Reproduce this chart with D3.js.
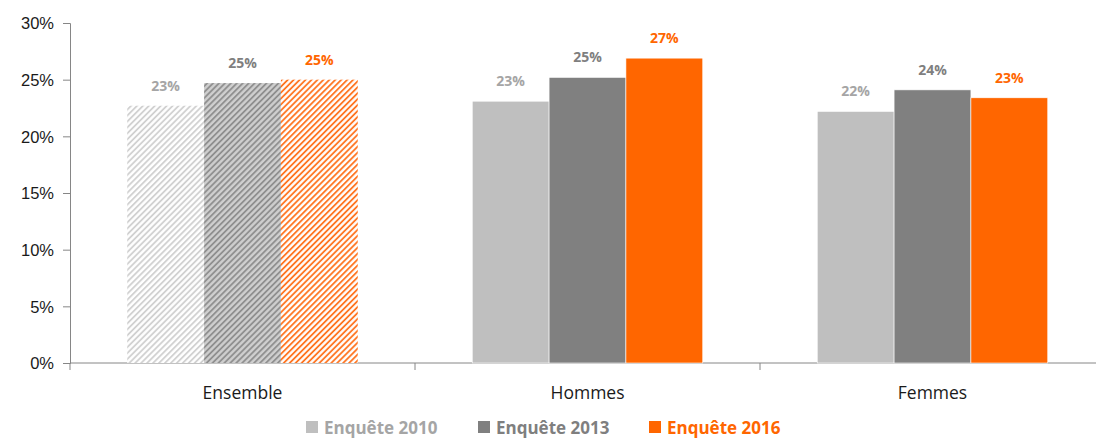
<!DOCTYPE html>
<html>
<head>
<meta charset="utf-8">
<script src="https://cdn.jsdelivr.net/npm/d3@7"></script>
<style>
body { margin: 0; background: #fff; }
svg { font-family: "Open Sans", "Liberation Sans", sans-serif; }
.axis path, .axis line { stroke: #868686; }
.axis text { fill: #1a1a1a; font-size: 16.5px; }
</style>
</head>
<body>
<svg width="1096" height="440"></svg>
<script>
// data
var categories = ["Ensemble", "Hommes", "Femmes"];
var series = ["Enquête 2010", "Enquête 2013", "Enquête 2016"];
var values2010 = [22.7, 23.1, 22.2];
var values2013 = [24.7, 25.2, 24.1];
var values2016 = [25.0, 26.9, 23.4];
var yTicks = [0, 5, 10, 15, 20, 25, 30];

var colors = ["#bfbfbf", "#808080", "#ff6600"];
var labelColors = ["#a5a5a5", "#7f7f7f", "#ff6600"];

var svg = d3.select("svg"),
    margin = {top: 23, right: 0, bottom: 77, left: 70},
    width = +svg.attr("width") - margin.left - margin.right,
    height = +svg.attr("height") - margin.top - margin.bottom;

var allValues = [values2010, values2013, values2016];

var x0 = d3.scaleBand().domain(categories).range([0, 1035]);
var x1 = d3.scaleBand().domain(series).range([0, x0.bandwidth()]).paddingOuter(0.745).paddingInner(0);
var y = d3.scaleLinear().domain([0, 30]).range([height, 0]);

// hatch patterns for "Ensemble"
var defs = svg.append("defs");
var hatch = [
  {id: "h0", bg: "#ffffff", fg: "#cdcdcd"},
  {id: "h1", bg: "#cfcfcf", fg: "#8a8a8a"},
  {id: "h2", bg: "#ffffff", fg: "#ff6a10"}
];
hatch.forEach(function(h) {
  var p = defs.append("pattern")
    .attr("id", h.id)
    .attr("patternUnits", "userSpaceOnUse")
    .attr("width", 4.2).attr("height", 4.2)
    .attr("patternTransform", "rotate(45)");
  p.append("rect").attr("width", 4.2).attr("height", 4.2).attr("fill", h.bg);
  p.append("line").attr("x1", 1).attr("y1", 0).attr("x2", 1).attr("y2", 4.2)
    .attr("stroke", h.fg).attr("stroke-width", 1.7);
});

var g = svg.append("g").attr("transform", "translate(" + margin.left + "," + margin.top + ")");

// y axis
g.append("g")
  .attr("class", "axis axis--y")
  .call(d3.axisLeft(y).tickValues(yTicks).tickSize(7).tickPadding(9).tickFormat(function(d) { return d + "%"; }))
  .selectAll("text").attr("dy", "0.35em");

// x axis with ticks at category boundaries
var xAxis = g.append("g")
  .attr("class", "axis axis--x")
  .attr("transform", "translate(0," + height + ")");
xAxis.append("line").attr("x1", 0).attr("x2", 1035).attr("y1", 0).attr("y2", 0).attr("stroke", "#868686");
xAxis.selectAll(".sep")
  .data(categories.concat([null]))
  .enter().append("line")
  .attr("class", "sep")
  .attr("x1", function(d, i) { return i * x0.step(); })
  .attr("x2", function(d, i) { return i * x0.step(); })
  .attr("y1", 0).attr("y2", 7)
  .attr("stroke", "#868686");
xAxis.selectAll(".cat")
  .data(categories)
  .enter().append("text")
  .attr("class", "cat")
  .attr("x", function(d) { return x0(d) + x0.bandwidth() / 2; })
  .attr("y", 36)
  .attr("text-anchor", "middle")
  .style("font-size", "17.5px")
  .attr("fill", "#111")
  .text(function(d) { return d; });

// bars
var groups = g.selectAll(".grp")
  .data(categories)
  .enter().append("g")
  .attr("class", "grp")
  .attr("transform", function(d) { return "translate(" + x0(d) + ",0)"; });

groups.each(function(cat, ci) {
  var grp = d3.select(this);
  series.forEach(function(s, si) {
    var v = allValues[si][ci];
    grp.append("rect")
      .attr("x", x1(s))
      .attr("y", y(v))
      .attr("width", x1.bandwidth())
      .attr("height", height - y(v))
      .attr("fill", ci === 0 ? "url(#h" + si + ")" : colors[si])
      .attr("stroke", ci === 0 ? "none" : "#fff")
      .attr("stroke-width", 0.6);
    grp.append("text")
      .attr("x", x1(s) + x1.bandwidth() / 2)
      .attr("y", y(v) - 15)
      .attr("text-anchor", "middle")
      .style("font-size", "14px")
      .style("font-weight", "bold")
      .attr("fill", labelColors[si])
      .text(Math.round(v) + "%");
  });
});

// legend
var legendX = [306, 478, 649];
var legend = svg.append("g").attr("class", "legend");
series.forEach(function(s, i) {
  legend.append("rect")
    .attr("x", legendX[i]).attr("y", 421)
    .attr("width", 12).attr("height", 12)
    .attr("fill", colors[i]);
  legend.append("text")
    .attr("x", legendX[i] + 18).attr("y", 433.5)
    .style("font-size", "17px")
    .style("font-weight", "bold")
    .attr("fill", labelColors[i])
    .text(s);
});
</script>
</body>
</html>
